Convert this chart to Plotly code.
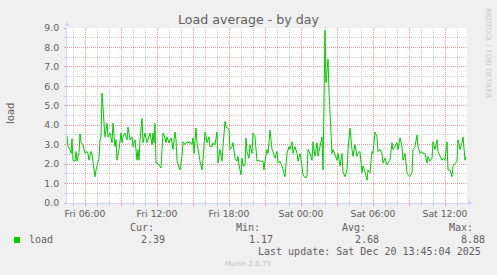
import pandas as pd
import plotly.graph_objects as go

# ---- data: minutes since Fri 2025-12-19 00:00 and load average ----
minutes = [
    270, 275, 285, 290, 295, 300, 310, 315, 320, 330,
    335, 340, 350, 360, 370, 375, 380, 390, 395, 400,
    410, 415, 420, 430, 435, 440, 445, 455, 460, 470,
    475, 485, 495, 500, 510, 515, 520, 530, 540, 545,
    550, 560, 570, 575, 585, 595, 600, 610, 620, 625,
    630, 635, 645, 650, 660, 670, 675, 685, 695, 700,
    705, 710, 715, 720, 730, 740, 745, 750, 760, 765,
    770, 780, 790, 795, 800, 810, 815, 820, 830, 835,
    845, 850, 860, 870, 875, 885, 895, 900, 905, 915,
    920, 930, 935, 945, 950, 960, 965, 970, 980, 985,
    995, 1000, 1010, 1020, 1025, 1035, 1045, 1050, 1060, 1065,
    1070, 1080, 1085, 1095, 1100, 1110, 1120, 1125, 1130, 1140,
    1145, 1150, 1160, 1165, 1170, 1180, 1185,
    1195, 1200, 1210, 1220, 1225, 1235, 1250, 1255, 1260, 1270,
    1275, 1285, 1295, 1300, 1310, 1320, 1325, 1335, 1345, 1350,
    1360, 1365, 1370, 1380, 1385, 1395, 1400, 1410, 1420, 1425,
    1435, 1445, 1450, 1460, 1470, 1475, 1485, 1495, 1500, 1510,
    1520, 1525, 1535, 1545, 1550, 1560, 1565, 1575, 1580, 1590,
    1595, 1600, 1610, 1620, 1625, 1635, 1645, 1650, 1660, 1670,
    1675, 1685, 1695, 1700, 1710, 1720, 1725, 1735, 1745, 1750,
    1760, 1770, 1775, 1785, 1795, 1800, 1810, 1820, 1825, 1835,
    1845, 1850, 1860, 1870, 1875, 1885, 1895, 1900, 1910, 1920,
    1925, 1935, 1945, 1950, 1960, 1970, 1975, 1985, 1995, 2000,
    2010, 2020, 2025, 2035, 2045, 2050, 2060, 2070, 2075, 2085,
    2095, 2100, 2110, 2120, 2125, 2135, 2145, 2150, 2160, 2170,
    2175, 2185, 2195, 2200, 2210, 2220, 2225, 2235, 2245, 2250,
    2260, 2265,
]
load = [
    3.45, 2.9, 2.75, 2.55, 3.3, 2.2, 2.15, 2.65, 2.15, 2.6,
    3.55, 3.15, 3.0, 2.55, 2.65, 2.55, 2.2, 2.65, 2.5, 2.15,
    1.35, 1.7, 1.9, 2.3, 3.25, 3.4, 5.65, 4.1, 3.4, 4.1,
    3.4, 3.6, 3.1, 4.1, 2.9, 3.25, 2.2, 2.75, 3.6, 3.1,
    3.4, 3.6, 3.25, 3.9, 3.25, 3.4, 2.9, 3.25, 2.2, 2.75,
    2.2, 3.25, 4.35, 3.1, 3.6, 3.1, 3.25, 3.6, 3.0, 3.6,
    3.1, 4.1, 2.05, 2.05, 1.95, 1.8, 2.75, 3.6, 3.35, 3.1,
    3.4, 3.1, 3.35, 3.15, 2.75, 3.65, 3.25, 2.2, 1.8, 1.7,
    2.4, 3.15, 3.0, 3.15, 3.1, 3.15, 3.0, 3.35, 2.55, 3.85,
    3.1, 2.3, 2.15, 1.7, 2.2, 3.65, 3.5, 3.1, 3.4, 2.9,
    2.9, 3.1, 3.0, 3.65, 2.05, 2.75, 2.15, 2.9, 4.2, 3.9,
    3.9, 3.75, 2.75, 2.9, 3.1, 2.3, 2.15, 2.4, 1.95, 1.45,
    2.3, 1.9, 1.95, 3.35, 2.65, 2.3, 3.0,
    2.55, 3.6, 3.4, 2.15, 2.2, 2.15, 2.15, 1.7, 2.2, 2.75,
    2.55, 3.75, 2.75, 2.65, 2.3, 2.65, 2.05, 2.15, 1.9, 1.7,
    1.35, 1.95, 2.55, 2.9, 2.75, 3.15, 2.55, 2.9, 2.55, 2.15,
    2.55, 1.9, 1.45, 1.3, 1.35, 2.75, 2.55, 2.2, 3.15, 2.4,
    3.1, 2.4, 2.9, 3.4, 1.7, 8.88, 6.2, 7.4, 5.7, 3.4,
    2.55, 2.75, 2.5, 2.2, 2.55, 1.9, 2.55, 1.6, 1.35, 1.7,
    2.75, 3.85, 2.75, 2.4, 3.0, 2.4, 2.55, 2.65, 1.55, 1.9,
    1.6, 1.17, 1.7, 1.55, 2.65, 2.55, 3.65, 3.4, 2.65, 2.75,
    2.55, 2.05, 2.3, 1.95, 2.05, 2.2, 3.1, 2.75, 2.9, 3.1,
    2.75, 3.35, 2.9, 2.2, 2.55, 1.55, 1.45, 1.35, 1.55, 2.75,
    2.9, 3.5, 2.9, 2.55, 2.65, 2.55, 2.55, 2.05, 2.4, 2.15,
    2.3, 3.15, 2.75, 3.25, 2.65, 2.4, 2.2, 2.3, 2.2, 3.15,
    1.7, 1.7, 1.35, 1.9, 2.05, 2.15, 3.25, 2.75, 3.1, 3.4,
    2.2, 2.39,
]
series_name = "load"
stat_labels = ["Cur:", "Min:", "Avg:", "Max:"]
stat_values = ["2.39", "1.17", "2.68", "8.88"]
title_text = "Load average - by day"
y_title = "load"
last_update = "Last update: Sat Dec 20 13:45:04 2025"
footer = "Munin 2.0.73"
side_text = "RRDTOOL / TOBI OETIKER"

start = pd.Timestamp("2025-12-19 00:00")
times = start + pd.to_timedelta(minutes, unit="min")

# ---- geometry helpers ----
W, H = 497, 275
L, R, T, B = 67, 30, 28, 72
PW, PH = W - L - R, H - T - B


def px(x):
    return (x - L) / PW


def py(y):
    return (H - B - y) / PH


FONT = "DejaVu Sans"
MONO = "DejaVu Sans Mono"
FC = "#606060"
AXIS_C = "#CFD6F8"
MGRID = "#EE9A9A"
GRID = "#CDCDCD"
DASH = "1px,1px"

fig = go.Figure()
fig.add_trace(go.Scatter(x=times, y=load, mode="lines",
                         line=dict(color="#00CC00", width=1),
                         hoverinfo="skip", showlegend=False))

tick_times = pd.date_range("2025-12-19 06:00", "2025-12-20 12:00", freq="3h")
tick_text = [t.strftime("%a %H:%M") if t.hour % 6 == 0 else "" for t in tick_times]

fig.update_xaxes(
    type="date",
    range=[pd.Timestamp("2025-12-19 04:30"), pd.Timestamp("2025-12-20 13:50")],
    tickmode="array", tickvals=tick_times, ticktext=tick_text,
    showgrid=True, gridcolor=MGRID, griddash=DASH, gridwidth=1,
    ticks="outside", ticklen=2, tickcolor=MGRID, tickwidth=1,
    minor=dict(tick0="2025-12-19 00:00", dtick=3600000, showgrid=True,
               gridcolor=GRID, griddash=DASH, gridwidth=1,
               ticks="outside", ticklen=2, tickcolor=GRID),
    showline=True, linecolor=AXIS_C, linewidth=1,
    zeroline=False,
    tickfont=dict(family=FONT, size=9.3, color=FC),
    fixedrange=True,
)
fig.update_yaxes(
    range=[0, 9], dtick=1, tick0=0, tickformat=".1f",
    showgrid=True, gridcolor=MGRID, griddash=DASH, gridwidth=1,
    ticks="outside", ticklen=2, tickcolor=MGRID, tickwidth=1,
    minor=dict(dtick=0.5, showgrid=True, gridcolor=GRID, griddash=DASH, gridwidth=1,
               ticks="outside", ticklen=2, tickcolor=GRID),
    showline=True, linecolor=AXIS_C, linewidth=1,
    zeroline=False, ticklabelstandoff=3,
    tickfont=dict(family=FONT, size=9.3, color=FC),
    fixedrange=True,
)

annotations = []


def txt(x, y, s, size, color=FC, family=FONT, xanchor="left", angle=0):
    annotations.append(dict(x=px(x), y=py(y), xref="paper", yref="paper", text=s,
                            showarrow=False, xanchor=xanchor, yanchor="middle",
                            textangle=angle, font=dict(family=family, size=size, color=color)))


txt(248, 19.5, title_text, 12.6, xanchor="center")
txt(10, 114, y_title, 10, xanchor="center", angle=-90)
txt(488, 53, side_text, 7, color="#C8C8C8", xanchor="center", angle=90)

stat_x = [127.7, 234, 340, 446.7]
val_x = [139, 246.7, 352.7, 459.3]
for lx, lab in zip(stat_x, stat_labels):
    txt(lx, 227.5, lab, 10, family=MONO)
for vx, v in zip(val_x, stat_values):
    txt(vx, 239.5, v, 10, family=MONO)
txt(26.7, 239.5, series_name, 10, family=MONO)
txt(482.7, 251.5, last_update, 10, family=MONO, xanchor="right")
txt(247.5, 263.5, footer, 7, color="#C0C0C0", xanchor="center")

shapes = [
    # legend colour box
    dict(type="rect", xref="paper", yref="paper", x0=px(14), x1=px(20), y0=py(243), y1=py(237),
         fillcolor="#00CC00", line=dict(width=0)),
    # y-axis arrow
    dict(type="path", xref="paper", yref="paper",
         path=f"M {px(64.5)},{py(26)} L {px(69.5)},{py(26)} L {px(67)},{py(21.5)} Z",
         fillcolor=AXIS_C, line=dict(width=0)),
    # x-axis arrow
    dict(type="path", xref="paper", yref="paper",
         path=f"M {px(468)},{py(200.5)} L {px(468)},{py(205.5)} L {px(473)},{py(203)} Z",
         fillcolor=AXIS_C, line=dict(width=0)),
]

fig.update_layout(
    width=W, height=H,
    margin=dict(l=L, r=R, t=T, b=B, pad=0),
    paper_bgcolor="#F0F0F0", plot_bgcolor="#FFFFFF",
    showlegend=False,
    annotations=annotations, shapes=shapes,
)

fig.write_html("out.html", config={"displayModeBar": False})
